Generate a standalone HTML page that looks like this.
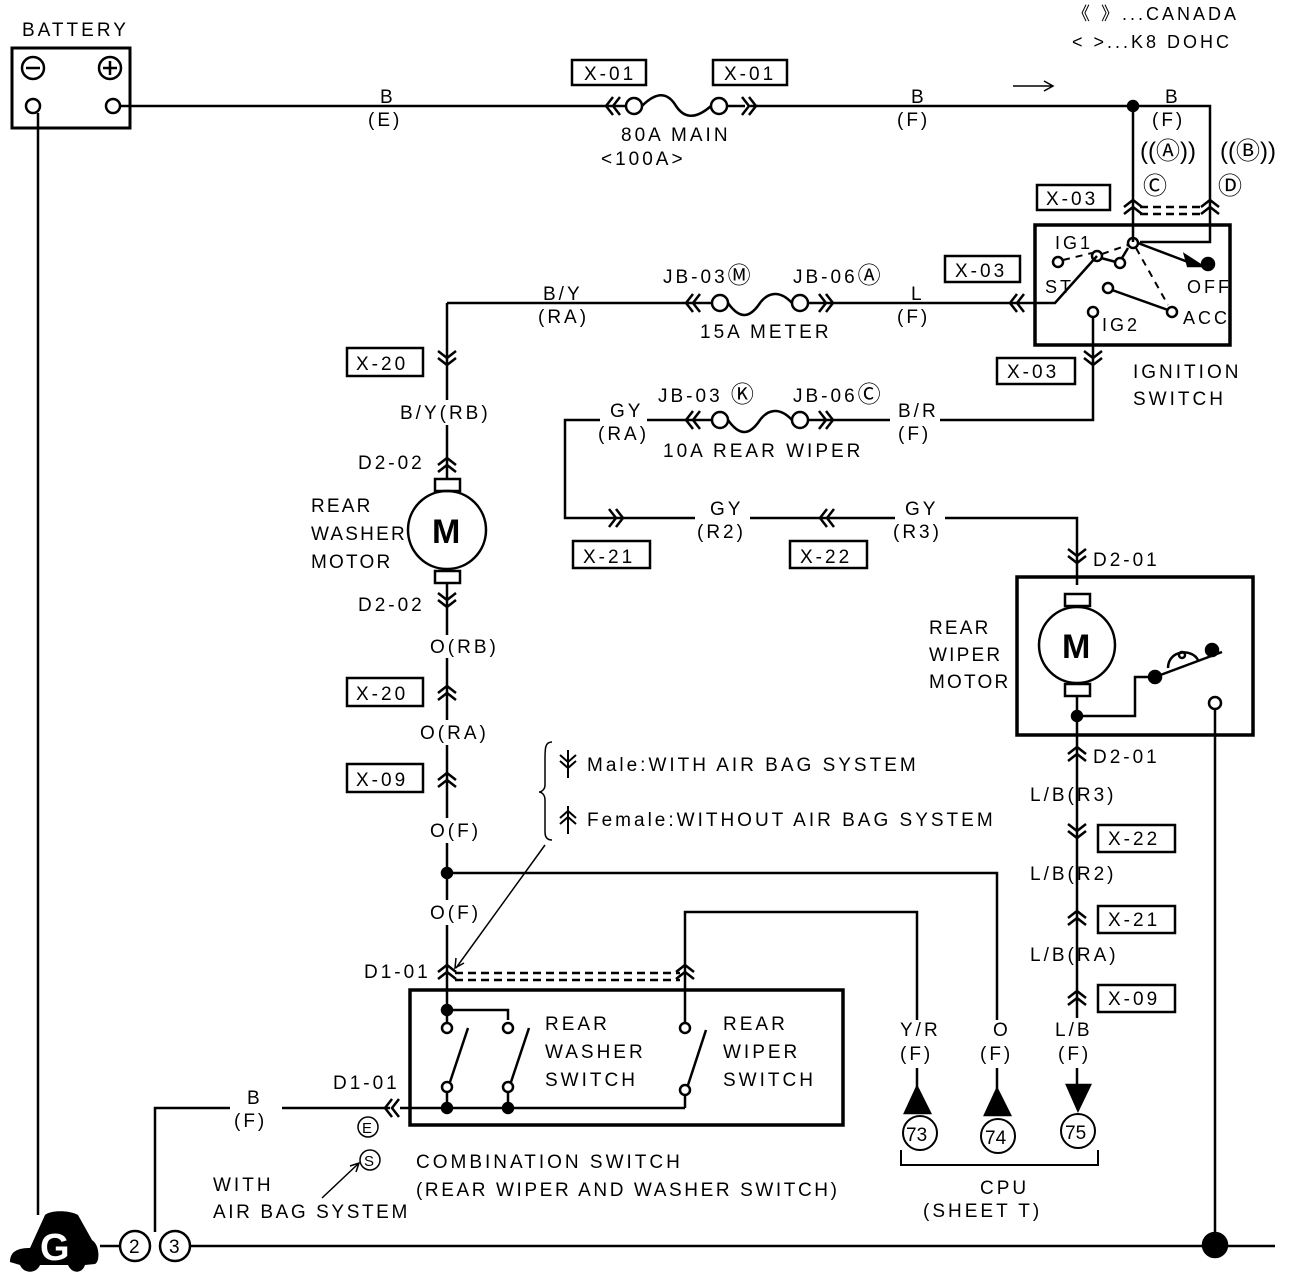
<!DOCTYPE html>
<html><head><meta charset="utf-8"><style>
html,body{margin:0;padding:0;background:#fff}
svg{display:block}
text{font-family:"Liberation Sans",sans-serif;font-size:19px;letter-spacing:3px;fill:#000}
.s{font-size:18px}
.c{font-size:24px;letter-spacing:0}
</style></head><body>
<svg width="1296" height="1278" viewBox="0 0 1296 1278" xmlns="http://www.w3.org/2000/svg">
<defs>
<g id="cd" fill="none" stroke="#000" stroke-width="2.5"><path d="M-9,-9 L0,-2 L9,-9 M-9,-2 L0,5 L9,-2"/></g>
<g id="cu" fill="none" stroke="#000" stroke-width="2.5"><path d="M-9,2 L0,-5 L9,2 M-9,9 L0,2 L9,9"/></g>
<g id="cl" fill="none" stroke="#000" stroke-width="2.5"><path d="M7,-9 L0,0 L7,9 M14,-9 L7,0 L14,9"/></g>
<g id="cr" fill="none" stroke="#000" stroke-width="2.5"><path d="M-7,-9 L0,0 L-7,9 M-14,-9 L-7,0 L-14,9"/></g>
</defs>
<g fill="none" stroke="#000" stroke-width="2.5">
<rect x="12" y="48" width="118" height="80" stroke-width="3"/>
<circle cx="33" cy="68" r="11"/><path d="M26,68 H40"/>
<circle cx="110" cy="68" r="11"/><path d="M103,68 H117 M110,61 V75"/>
<circle cx="33" cy="106" r="7"/><circle cx="113" cy="106" r="7"/>
<path d="M120,106 H612 M750,106 H1133 V242 M1133,106 H1210 V242 H1140"/>
<circle cx="1133" cy="106" r="5" fill="#000"/>
<path d="M38,113 V1215"/>
<circle cx="634" cy="106" r="8"/><circle cx="719" cy="106" r="8"/>
<path d="M642,106 C660,88 670,96 676,106 C684,118 695,120 711,106"/>
<path d="M612,106 H626 M727,106 H745"/>
<rect x="572" y="60" width="74" height="25"/><rect x="713" y="60" width="74" height="25"/>
<path d="M1013,86 H1052 M1044,81 L1053,86 L1044,91" stroke-width="1.5"/>
<rect x="1037" y="185" width="73" height="25"/>
<path d="M1140,207 H1205 M1140,214 H1205" stroke-dasharray="8,5"/>
<rect x="1035" y="225" width="195" height="120" stroke-width="3.5"/>
<rect x="945" y="256" width="75" height="26"/>
<path d="M447,303 H690 M826,303 H1055 L1097,256"/>
<circle cx="1133" cy="243" r="5"/><circle cx="1097" cy="256" r="5"/><circle cx="1120" cy="263" r="5"/><circle cx="1058" cy="262" r="5"/>
<circle cx="1108" cy="288" r="5"/><circle cx="1172" cy="312" r="5"/><circle cx="1093" cy="312" r="5"/>
<path d="M1101,258 L1116,262 M1128,248 L1122,258 M1112,290 L1168,310 M1138,243 L1188,262"/>
<path d="M1063,260 L1092,253 M1102,254 L1128,245 M1136,248 L1168,305" stroke-dasharray="7,6" stroke-width="2"/>
<circle cx="1208" cy="264" r="6" fill="#000"/><path d="M1185,255 L1202,266 L1188,266 Z" fill="#000"/>
<path d="M1093,318 V420 H940"/>
<rect x="997" y="358" width="78" height="26"/>
<circle cx="720" cy="303" r="8"/><circle cx="800" cy="303" r="8"/>
<path d="M728,303 C740,320 750,318 760,303 C768,292 780,290 792,303"/>
<path d="M690,303 H712 M808,303 H826"/>
<circle cx="720" cy="420" r="8"/><circle cx="800" cy="420" r="8"/>
<path d="M728,420 C740,437 750,435 760,420 C768,409 780,407 792,420"/>
<path d="M647,420 H712 M808,420 H890"/>
<path d="M600,420 H565 V518 H695 M750,518 H895 M945,518 H1077 V585"/>
<rect x="573" y="541" width="77" height="27"/><rect x="790" y="541" width="77" height="27"/>
<path d="M447,303 V400 M447,425 V479 M447,583 V635 M447,658 V720 M447,745 V818 M447,843 V900 M447,925 V1010 H508 V1020"/>
<rect x="347" y="348" width="76" height="28"/><rect x="347" y="678" width="76" height="28"/><rect x="347" y="764" width="76" height="28"/>
<circle cx="447" cy="530" r="39"/>
<rect x="435" y="479" width="25" height="12"/><rect x="435" y="571" width="25" height="12"/>
<path d="M447,873 H997 V1020 M997,1068 V1090"/>
<circle cx="447" cy="873" r="5" fill="#000"/>
<path d="M455,973 H680 M455,980 H680" stroke-dasharray="8,5"/>
<rect x="410" y="990" width="433" height="135" stroke-width="3.5"/>
<circle cx="447" cy="1010" r="5" fill="#000"/>
<circle cx="447" cy="1028" r="5"/><circle cx="508" cy="1028" r="5"/><circle cx="685" cy="1028" r="5"/>
<circle cx="447" cy="1087" r="5"/><circle cx="508" cy="1087" r="5"/><circle cx="685" cy="1090" r="5"/>
<path d="M447,1010 V1023 M447,1092 V1108 M508,1092 V1108 M685,1095 V1108"/>
<path d="M450,1082 L468,1028 M511,1082 L529,1028 M688,1085 L706,1030"/>
<path d="M685,1023 V912 H917 V1020 M917,1068 V1090"/>
<circle cx="447" cy="1108" r="5" fill="#000"/><circle cx="508" cy="1108" r="5" fill="#000"/>
<path d="M155,1232 V1108 H230 M282,1108 H390 M400,1108 H685"/>
<circle cx="368" cy="1127" r="10" stroke-width="1.5"/><circle cx="370" cy="1160" r="10" stroke-width="1.5"/>
<path d="M322,1198 L358,1164 M350,1166 L359,1163 L356,1172" stroke-width="1.5"/>
<path d="M552,742 C545,742 545,748 545,760 V785 C545,790 541,792 539,792 C541,792 545,794 545,800 V832 C545,838 548,840 552,840" stroke-width="1.5"/>
<path d="M568,750 V778 M560,755 L568,762 L576,755 M560,761 L568,768 L576,761" stroke-width="2"/>
<path d="M568,806 V834 M560,818 L568,811 L576,818 M560,824 L568,817 L576,824" stroke-width="2"/>
<path d="M545,845 L456,968 M456,958 L455,968 L464,963" stroke-width="1.5"/>
<rect x="1017" y="577" width="236" height="158" stroke-width="3.5"/>
<circle cx="1077" cy="645" r="38"/>
<rect x="1065" y="594" width="25" height="12"/><rect x="1065" y="684" width="25" height="12"/>
<path d="M1077,696 V1018 M1077,1068 V1085"/>
<circle cx="1077" cy="716" r="5" fill="#000"/>
<path d="M1077,716 H1135 V677 H1155 L1222,652"/>
<circle cx="1155" cy="677" r="6" fill="#000"/><circle cx="1212" cy="650" r="6" fill="#000"/>
<path d="M1168,668 C1168,650 1192,648 1198,660"/><circle cx="1182" cy="655" r="3"/>
<circle cx="1215" cy="703" r="6"/>
<path d="M1215,709 V1245 M190,1246 H1275"/>
<circle cx="1215" cy="1245" r="12" fill="#000"/>
<rect x="1098" y="825" width="77" height="27"/><rect x="1098" y="906" width="77" height="27"/><rect x="1098" y="985" width="77" height="27"/>
<path d="M917,1087 L905,1113 L930,1113 Z M997,1089 L985,1115 L1010,1115 Z M1067,1085 L1090,1085 L1078,1110 Z" fill="#000"/>
<circle cx="920" cy="1133" r="17" stroke-width="2"/><circle cx="998" cy="1136" r="17" stroke-width="2"/><circle cx="1078" cy="1131" r="17" stroke-width="2"/>
<path d="M901,1150 V1165 H1098 V1150" stroke-width="2"/>
<circle cx="135" cy="1246" r="15"/><circle cx="175" cy="1246" r="15"/>
<path d="M100,1246 H120"/>
</g>
<path d="M10,1262 C10,1250 20,1248 30,1248 L45,1215 C50,1210 70,1210 78,1215 L92,1240 C100,1245 100,1262 95,1264 L85,1265 C82,1274 72,1274 68,1265 L40,1265 C36,1274 24,1274 20,1265 Z" fill="#000"/>
<text x="40" y="1260" style="font-size:38px;font-weight:bold;fill:#fff;letter-spacing:0">G</text>
<text x="432" y="543" style="font-size:34px;font-weight:bold;letter-spacing:0">M</text>
<text x="1062" y="658" style="font-size:34px;font-weight:bold;letter-spacing:0">M</text>
<use href="#cl" x="606" y="106"/><use href="#cr" x="756" y="106"/>
<use href="#cl" x="686" y="303"/><use href="#cr" x="833" y="303"/>
<use href="#cl" x="686" y="420"/><use href="#cr" x="833" y="420"/>
<use href="#cl" x="1010" y="303"/>
<use href="#cr" x="623" y="518"/><use href="#cl" x="820" y="518"/>
<use href="#cl" x="385" y="1108"/>
<use href="#cu" x="1133" y="205"/><use href="#cu" x="1210" y="205"/>
<use href="#cd" x="1093" y="360"/>
<use href="#cd" x="447" y="360"/><use href="#cu" x="447" y="463"/><use href="#cd" x="447" y="602"/>
<use href="#cu" x="447" y="691"/><use href="#cu" x="447" y="778"/><use href="#cu" x="447" y="970"/><use href="#cu" x="685" y="970"/>
<use href="#cd" x="1077" y="558"/><use href="#cu" x="1077" y="752"/><use href="#cd" x="1077" y="833"/>
<use href="#cu" x="1077" y="916"/><use href="#cu" x="1077" y="996"/>
<text x="22" y="36">BATTERY</text>
<text x="1072" y="20" class="s">《 》...CANADA</text>
<text x="1072" y="48" class="s">&lt; &gt;...K8 DOHC</text>
<text x="380" y="103">B</text><text x="368" y="126">(E)</text>
<text x="911" y="103">B</text><text x="897" y="126">(F)</text>
<text x="1165" y="103">B</text><text x="1152" y="126">(F)</text>
<text x="584" y="80">X-01</text><text x="724" y="80">X-01</text>
<text x="621" y="141">80A MAIN</text><text x="601" y="165">&lt;100A&gt;</text>
<text x="1140" y="159" class="c">((Ⓐ))</text><text x="1220" y="159" class="c">((Ⓑ))</text>
<text x="1143" y="194" class="c">Ⓒ</text><text x="1218" y="194" class="c">Ⓓ</text>
<text x="1046" y="205">X-03</text><text x="955" y="277">X-03</text><text x="1007" y="378">X-03</text>
<text x="1055" y="249" class="s">IG1</text><text x="1045" y="293" class="s">ST</text>
<text x="1187" y="293" class="s">OFF</text><text x="1183" y="324" class="s">ACC</text><text x="1102" y="331" class="s">IG2</text>
<text x="1133" y="378">IGNITION</text><text x="1133" y="405">SWITCH</text>
<text x="663" y="283">JB-03<tspan style="font-size:23px;letter-spacing:0">Ⓜ</tspan></text><text x="793" y="283">JB-06<tspan style="font-size:23px;letter-spacing:0">Ⓐ</tspan></text>
<text x="700" y="338">15A METER</text>
<text x="543" y="300">B/Y</text><text x="538" y="323">(RA)</text>
<text x="911" y="300">L</text><text x="897" y="323">(F)</text>
<text x="658" y="402">JB-03 <tspan style="font-size:23px;letter-spacing:0">Ⓚ</tspan></text><text x="793" y="402">JB-06<tspan style="font-size:23px;letter-spacing:0">Ⓒ</tspan></text>
<text x="663" y="457">10A REAR WIPER</text>
<text x="610" y="417">GY</text><text x="598" y="440">(RA)</text>
<text x="898" y="417">B/R</text><text x="898" y="440">(F)</text>
<text x="356" y="370">X-20</text><text x="356" y="700">X-20</text><text x="356" y="786">X-09</text>
<text x="400" y="419">B/Y(RB)</text>
<text x="358" y="469">D2-02</text><text x="358" y="611">D2-02</text>
<text x="311" y="512" style="letter-spacing:2.2px">REAR</text><text x="311" y="540" style="letter-spacing:2.2px">WASHER</text><text x="311" y="568" style="letter-spacing:2.2px">MOTOR</text>
<text x="430" y="653">O(RB)</text><text x="420" y="739">O(RA)</text>
<text x="430" y="837">O(F)</text><text x="430" y="919">O(F)</text>
<text x="364" y="978">D1-01</text><text x="333" y="1089">D1-01</text>
<text x="247" y="1104">B</text><text x="234" y="1127">(F)</text>
<text x="545" y="1030">REAR</text><text x="545" y="1058">WASHER</text><text x="545" y="1086">SWITCH</text>
<text x="723" y="1030">REAR</text><text x="723" y="1058">WIPER</text><text x="723" y="1086">SWITCH</text>
<text x="416" y="1168">COMBINATION SWITCH</text>
<text x="416" y="1196" style="letter-spacing:2.6px">(REAR WIPER AND WASHER SWITCH)</text>
<text x="213" y="1191">WITH</text><text x="213" y="1218" style="letter-spacing:2.6px">AIR BAG SYSTEM</text>
<text x="362" y="1133" style="font-size:15px;letter-spacing:0">E</text>
<text x="364" y="1166" style="font-size:15px;letter-spacing:0">S</text>
<text x="587" y="771">Male:WITH AIR BAG SYSTEM</text>
<text x="587" y="826">Female:WITHOUT AIR BAG SYSTEM</text>
<text x="583" y="563">X-21</text><text x="800" y="563">X-22</text>
<text x="710" y="515">GY</text><text x="697" y="538">(R2)</text>
<text x="905" y="515">GY</text><text x="893" y="538">(R3)</text>
<text x="1093" y="566">D2-01</text><text x="1093" y="763">D2-01</text>
<text x="929" y="634" style="letter-spacing:2.2px">REAR</text><text x="929" y="661" style="letter-spacing:2.2px">WIPER</text><text x="929" y="688" style="letter-spacing:2.2px">MOTOR</text>
<text x="1030" y="801">L/B(R3)</text><text x="1030" y="880">L/B(R2)</text><text x="1030" y="961">L/B(RA)</text>
<text x="1108" y="845">X-22</text><text x="1108" y="926">X-21</text><text x="1108" y="1005">X-09</text>
<text x="900" y="1036">Y/R</text><text x="900" y="1060">(F)</text>
<text x="993" y="1036">O</text><text x="980" y="1060">(F)</text>
<text x="1055" y="1036">L/B</text><text x="1058" y="1060">(F)</text>
<text x="906" y="1141" style="letter-spacing:0">73</text><text x="985" y="1144" style="letter-spacing:0">74</text><text x="1065" y="1139" style="letter-spacing:0">75</text>
<text x="980" y="1194">CPU</text><text x="923" y="1217">(SHEET T)</text>
<text x="129" y="1253" style="letter-spacing:0">2</text><text x="169" y="1253" style="letter-spacing:0">3</text>
</svg>
</body></html>
